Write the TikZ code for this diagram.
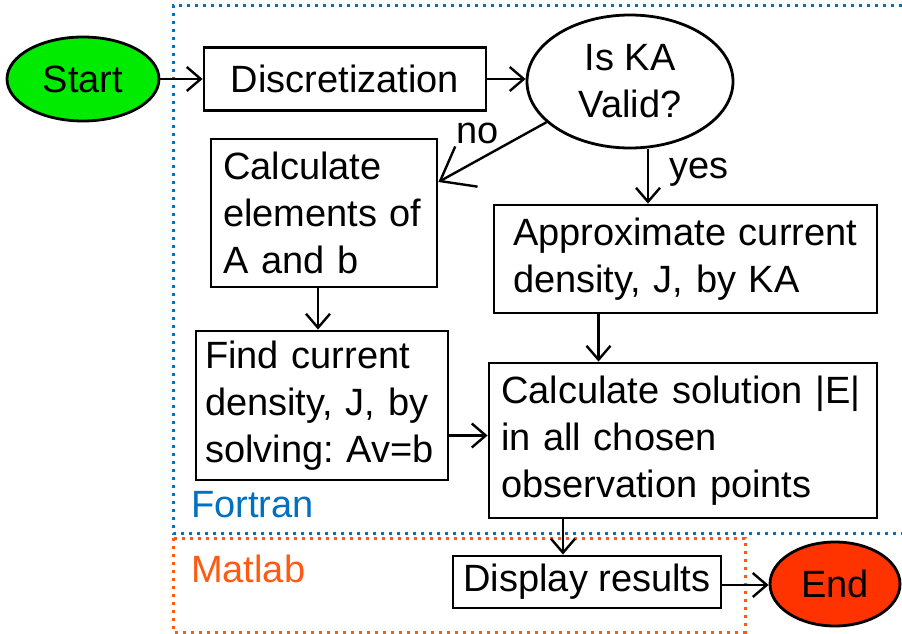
\documentclass[tikz,border=0pt]{standalone}
\usepackage{fontspec}
\setmainfont{Liberation Sans}
\usetikzlibrary{arrows.meta,shapes.geometric}
\definecolor{fblue}{RGB}{0,112,192}
\definecolor{morange}{RGB}{255,90,20}
\definecolor{sgreen}{RGB}{0,235,0}
\definecolor{ered}{RGB}{255,51,0}
\begin{document}
\frenchspacing
\begin{tikzpicture}[x=1pt,y=-1pt,
  every node/.style={font=\fontsize{38}{47}\selectfont\frenchspacing},
  box/.style={draw, line width=2.8pt, inner ysep=0pt, align=left},
  oval/.style={ellipse, draw, line width=2.8pt, inner sep=0pt, align=center},
  arr/.style={line width=2.4pt, -{Straight Barb[length=14pt,width=24pt,line width=2.4pt]}},
  bigarr/.style={line width=2.4pt, -{Straight Barb[length=30pt,width=46pt,line width=2.4pt]}},
  frame/.style={line width=3pt, dash pattern=on 3pt off 5pt},
  lbl/.style={inner sep=0pt}]
\fill[white] (0,0) rectangle (902,634);
\useasboundingbox (0,0) rectangle (902,634);

% frames
\draw[frame, fblue] (902,6) -- (173,6) -- (173,533) -- (902,533);
\draw[frame, morange] (173,538) rectangle (745,632);
\node[lbl, text=fblue, anchor=base west] (fortran) at (191,517) {Fortran};
\node[lbl, text=morange, anchor=base west] (matlab) at (191,582) {Matlab};

% nodes
\node[oval, fill=sgreen, minimum width=152pt, minimum height=84pt] (start) at (83,79) {Start};
\node[box, align=center, minimum width=282pt, minimum height=63pt] (disc) at (345,79) {Discretization};
\node[oval, minimum width=206pt, minimum height=133pt] (ka) at (630,81.5) {Is KA\\Valid?};
\node[box, inner xsep=12pt, text width=202pt, minimum height=148pt] (calcA) at (324,213) {Calculate\\elements of\\A and b};
\node[box, inner xsep=19pt, text width=345pt, minimum height=108pt] (approx) at (685.5,259) {Approximate current\\density, J, by KA};
\node[box, inner xsep=9pt, text width=234pt, minimum height=149pt] (find) at (322,405.5) {Find current\\density, J, by\\solving: Av=b};
\node[box, inner xsep=12pt, text width=364pt, minimum height=155pt] (calcsol) at (683,440.5) {Calculate solution |E|\\in all chosen\\observation points};
\node[box, align=center, minimum width=268pt, minimum height=52pt] (display) at (587,582) {Display results};
\node[oval, fill=ered, minimum width=130pt, minimum height=84pt] (end) at (835,584) {End};

% labels
\node[lbl, anchor=base] (nolbl) at (478,143) {no};
\node[lbl, anchor=base] (yeslbl) at (699,178) {yes};

% connectors
\draw[arr] (start.east) -- (disc.west);
\draw[arr] (disc.east) -- (ka.west |- disc.east);
\draw[bigarr] (ka.206) -- ([yshift=31pt]calcA.east);
\draw[arr] ([xshift=18pt]ka.south) -- ([xshift=18pt]ka.south |- approx.north);
\draw[arr] ([xshift=-6pt]calcA.south) -- ([xshift=-6pt]calcA.south |- find.north);
\draw[arr] ([xshift=-87pt]approx.south) -- ([xshift=-87pt]approx.south |- calcsol.north);
\draw[arr] ([yshift=-30pt]find.east) -- ([yshift=-30pt]find.east -| calcsol.west);
\draw[arr] ([xshift=-120pt]calcsol.south) -- ([xshift=-120pt]calcsol.south |- display.north);
\draw[arr] ([yshift=-3pt]display.east) -- ([yshift=-3pt]display.east -| end.west);
\end{tikzpicture}
\end{document}
